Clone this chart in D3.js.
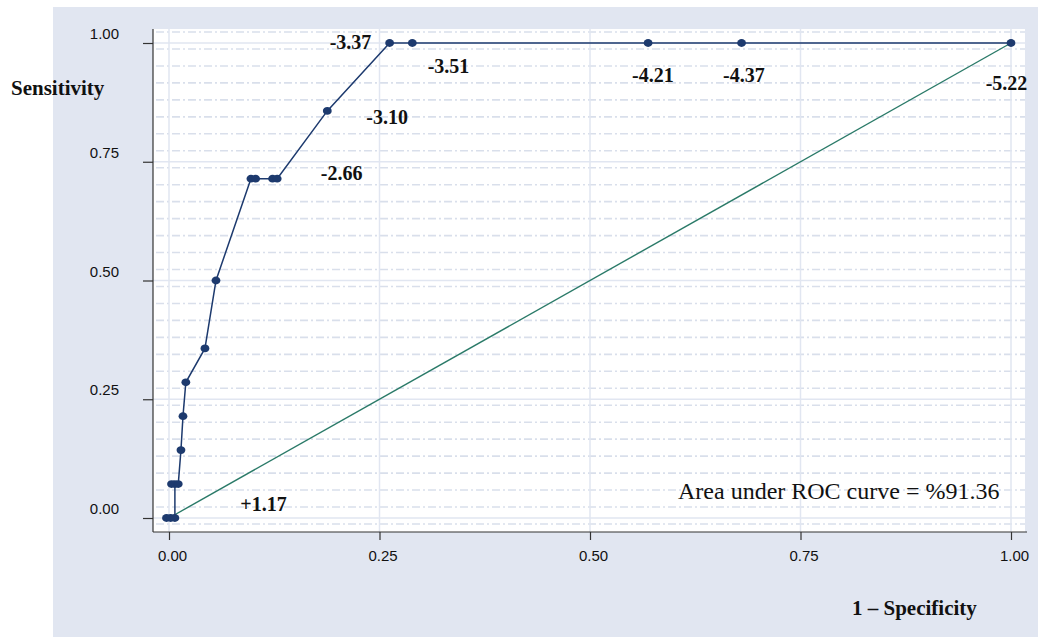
<!DOCTYPE html>
<html>
<head>
<meta charset="utf-8">
<script src="https://cdn.jsdelivr.net/npm/d3@7"></script>
<style>
  body { margin: 0; background: #fff; }
  svg { display: block; }
</style>
</head>
<body>
<svg id="root"></svg>
<script>
// ROC curve points, in drawing order (1 - specificity, sensitivity)
const fpr = [-0.003, 0.002, 0.007, 0.007, 0.003, 0.011, 0.0142, 0.0166, 0.020, 0.0427,
  0.0558, 0.0973, 0.1029, 0.123, 0.1285, 0.188, 0.262, 0.289, 0.569, 0.680, 1.0];
const tpr = [0, 0, 0, 0.0714, 0.0714, 0.0714, 0.1429, 0.2143, 0.2857, 0.3571,
  0.5, 0.7143, 0.7143, 0.7143, 0.7143, 0.8571, 1, 1, 1, 1, 1];

// cut-off labels next to the curve (centre x, baseline y in data units)
const cutLabels = ["-3.37", "-3.51", "-3.10", "-2.66", "-4.21", "-4.37", "-5.22", "+1.17"];
const cutX = [0.2156, 0.332, 0.259, 0.205, 0.5747, 0.6828, 0.9947, 0.1122];
const cutY = [0.987, 0.936, 0.8295, 0.7115, 0.9185, 0.9185, 0.9011, 0.0154];

const xTicks = [0, 0.25, 0.5, 0.75, 1];
const yTicks = [0, 0.25, 0.5, 0.75, 1];
const aucText = "Area under ROC curve = %91.36";

const W = 1038, H = 637;
const svg = d3.select("svg#root").attr("width", W).attr("height", H);

// outer panel + plot region
const plot = { left: 153, top: 29, right: 1025, bottom: 532 };
svg.append("rect")
  .attr("x", 53).attr("y", 7)
  .attr("width", W - 53).attr("height", H - 7)
  .attr("fill", "#e1e6f1");
svg.append("rect")
  .attr("x", plot.left).attr("y", plot.top)
  .attr("width", plot.right - plot.left).attr("height", plot.bottom - plot.top)
  .attr("fill", "#fff");

const x = d3.scaleLinear().domain([0, 1]).range([169, 1011]);
const y = d3.scaleLinear().domain([0, 1]).range([518, 43]);

// dash-dot minor grid
const minor = d3.range(-0.0126, 1.03, 1 / 28);
svg.append("g")
  .selectAll("line")
  .data(minor)
  .join("line")
  .attr("x1", plot.left + 3).attr("x2", plot.right)
  .attr("y1", (d) => y(d)).attr("y2", (d) => y(d))
  .attr("stroke", "#d9dfeb")
  .attr("stroke-width", 1.6)
  .attr("stroke-dasharray", "8,3,2,3");

// major grid
svg.append("g")
  .selectAll("line")
  .data(yTicks)
  .join("line")
  .attr("x1", plot.left).attr("x2", plot.right)
  .attr("y1", (d) => y(d)).attr("y2", (d) => y(d))
  .attr("stroke", "#e1e6f1")
  .attr("stroke-width", 1.5);
svg.append("g")
  .selectAll("line")
  .data(xTicks)
  .join("line")
  .attr("x1", (d) => x(d)).attr("x2", (d) => x(d))
  .attr("y1", plot.top).attr("y2", plot.bottom)
  .attr("stroke", "#e1e6f1")
  .attr("stroke-width", 1.5);

// axes
const fmt = d3.format(".2f");
const yAxis = svg.append("g")
  .attr("transform", `translate(${plot.left},0)`)
  .call(d3.axisLeft(y).tickValues(yTicks).tickFormat(fmt).tickSize(10).tickSizeOuter(0));
yAxis.select(".domain").attr("d", `M0,${plot.top}V${plot.bottom}`);
yAxis.selectAll("text")
  .attr("x", -34).attr("dy", "-0.3em")
  .attr("font-family", "Liberation Sans, Arial, sans-serif")
  .attr("font-size", "15px")
  .attr("fill", "#111");

const xAxis = svg.append("g")
  .attr("transform", `translate(0,${plot.bottom})`)
  .call(d3.axisBottom(x).tickValues(xTicks).tickFormat(fmt).tickSize(8).tickSizeOuter(0));
xAxis.select(".domain").attr("d", `M${plot.left},0H${plot.right + 2}`);
xAxis.selectAll("text")
  .attr("x", 3).attr("y", 18)
  .attr("font-family", "Liberation Sans, Arial, sans-serif")
  .attr("font-size", "15px")
  .attr("fill", "#111");
svg.selectAll(".domain, .tick line").attr("stroke", "#333").attr("stroke-width", 1.2);

// reference diagonal
svg.append("line")
  .attr("x1", x(0)).attr("y1", y(0))
  .attr("x2", x(1)).attr("y2", y(1))
  .attr("stroke", "#2a7a68")
  .attr("stroke-width", 1.4);

// ROC curve
const pts = fpr.map((f, i) => [f, tpr[i]]);
svg.append("path")
  .datum(pts)
  .attr("fill", "none")
  .attr("stroke", "#1d3a6e")
  .attr("stroke-width", 1.5)
  .attr("d", d3.line().x((d) => x(d[0])).y((d) => y(d[1])));

svg.append("g")
  .selectAll("ellipse")
  .data(pts)
  .join("ellipse")
  .attr("cx", (d) => x(d[0]))
  .attr("cy", (d) => y(d[1]))
  .attr("rx", 4.4).attr("ry", 3.9)
  .attr("fill", "#1d3a6e");

// cut-off labels
svg.append("g")
  .selectAll("text")
  .data(cutLabels)
  .join("text")
  .attr("x", (d, i) => x(cutX[i]))
  .attr("y", (d, i) => y(cutY[i]))
  .attr("text-anchor", "middle")
  .attr("font-family", "Liberation Serif, Times New Roman, serif")
  .attr("font-weight", "bold")
  .attr("font-size", "20px")
  .attr("fill", "#111")
  .text((d) => d);

// AUC note
svg.append("text")
  .attr("x", 678).attr("y", 499)
  .attr("font-family", "Liberation Serif, Times New Roman, serif")
  .attr("font-size", "24px")
  .attr("fill", "#111")
  .text(aucText);

// axis titles
svg.append("text")
  .attr("x", 11).attr("y", 95)
  .attr("font-family", "Liberation Serif, Times New Roman, serif")
  .attr("font-weight", "bold")
  .attr("font-size", "21px")
  .attr("fill", "#111")
  .text("Sensitivity");
svg.append("text")
  .attr("x", 852).attr("y", 615)
  .attr("font-family", "Liberation Serif, Times New Roman, serif")
  .attr("font-weight", "bold")
  .attr("font-size", "21px")
  .attr("fill", "#111")
  .text("1 – Specificity");
</script>
</body>
</html>
